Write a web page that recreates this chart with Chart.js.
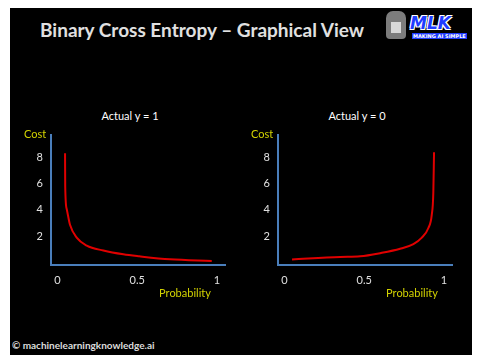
<!DOCTYPE html>
<html lang="en">
<head>
    <meta charset="UTF-8">
    <title>Binary Cross Entropy - Graphical View</title>
    <script src="https://cdn.jsdelivr.net/npm/chart.js"></script>
    <style>
        body {
            margin: 0;
            padding: 0;
            background-color: white;
            font-family: Lato, "Open Sans", sans-serif;
            width: 485px;
            height: 362px;
            overflow: hidden;
            position: relative;
        }
        .slide {
            position: absolute;
            left: 10px;
            top: 8px;
            width: 462px;
            height: 347px;
            background-color: black;
        }
        .title {
            position: absolute;
            left: 40px;
            top: 18px;
            color: #e0e0e0;
            font-size: 19px;
            font-weight: bold;
            white-space: nowrap;
        }
        .sub {
            position: absolute;
            top: 109px;
            color: white;
            font-size: 11px;
            white-space: nowrap;
            transform: translateX(-50%);
        }
        canvas {
            position: absolute;
        }
        .footer {
            position: absolute;
            left: 12px;
            top: 339px;
            color: #dcdcdc;
            font-size: 10px;
            font-weight: bold;
            white-space: nowrap;
        }
        .robot {
            position: absolute;
            left: 386px;
            top: 11px;
            width: 20px;
            height: 28px;
            background: #7c7c7c;
            border-radius: 7px 7px 4px 4px;
        }
        .robot::after {
            content: "";
            position: absolute;
            left: 5px;
            top: 11px;
            width: 10px;
            height: 11px;
            background: #d8d8d8;
        }
        .mlk {
            position: absolute;
            left: 410px;
            top: 13px;
            color: #1f3cff;
            font-family: "DejaVu Sans", sans-serif;
            font-size: 17px;
            font-weight: bold;
            font-style: italic;
            text-shadow: 1px 1px 0 white, -1px -1px 0 white, 1px -1px 0 white, -1px 1px 0 white;
        }
        .mlk-sub {
            position: absolute;
            left: 412px;
            top: 33px;
            color: white;
            font-family: "DejaVu Sans", sans-serif;
            font-size: 5px;
            font-weight: bold;
            background: #1f3cff;
            padding: 0 1px;
        }
    </style>
</head>
<body>
    <div class="slide"></div>
    <div class="title">Binary Cross Entropy – Graphical View</div>
    <div class="robot"></div>
    <div class="mlk">MLK</div>
    <div class="mlk-sub">MAKING AI SIMPLE</div>

    <div class="sub" style="left:130px">Actual y = 1</div>
    <div class="sub" style="left:357px">Actual y = 0</div>

    <canvas id="chartY1" width="215" height="190" style="left:20px; top:120px"></canvas>
    <canvas id="chartY0" width="215" height="190" style="left:247px; top:120px"></canvas>

    <div class="footer">© machinelearningknowledge.ai</div>

    <script>
        // values
        const probY1 = [0.048, 0.049, 0.058, 0.079, 0.121, 0.184, 0.288, 0.413, 0.513, 0.705, 0.967];
        const costY1 = [8.28, 5.79, 4.07, 2.86, 1.88, 1.27, 0.90, 0.61, 0.46, 0.23, 0.11];

        const probY0 = [0.048, 0.35, 0.475, 0.60, 0.725, 0.808, 0.861, 0.902, 0.923, 0.933, 0.9375];
        const costY0 = [0.22, 0.41, 0.46, 0.70, 1.03, 1.39, 1.88, 2.61, 3.59, 5.30, 8.36];

        const xTicks = [0, 0.5, 1];
        const xTickLabels = ['0', '0.5', '1'];
        const yTicks = [2, 4, 6, 8];

        const axisBlue = '#4a7ebb';
        const labelYellow = '#d2d200';

        // draws "Cost" above the y axis and "Probability" under the x axis
        const axisNames = {
            id: 'axisNames',
            afterDraw(chart) {
                const ctx = chart.ctx;
                const area = chart.chartArea;
                ctx.save();
                ctx.fillStyle = labelYellow;
                ctx.font = '11px Lato, "Open Sans", sans-serif';
                ctx.textAlign = 'center';
                ctx.textBaseline = 'middle';
                ctx.fillText('Cost', area.left - 16, area.top);
                ctx.fillText('Probability', area.right - 40, area.bottom + 28);
                ctx.restore();
            }
        };

        function makeChart(id, xs, ys) {
            const ctx = document.getElementById(id).getContext('2d');
            return new Chart(ctx, {
                type: 'line',
                data: {
                    datasets: [{
                        data: xs.map((x, i) => ({ x: x, y: ys[i] })),
                        borderColor: '#e00000',
                        borderWidth: 2,
                        pointRadius: 0,
                        cubicInterpolationMode: 'monotone',
                        fill: false
                    }]
                },
                options: {
                    responsive: false,
                    animation: false,
                    layout: {
                        padding: { top: 10, right: 10, left: 0, bottom: 0 }
                    },
                    plugins: {
                        legend: { display: false },
                        tooltip: { enabled: false }
                    },
                    scales: {
                        x: {
                            type: 'linear',
                            min: -0.04,
                            max: 1.05,
                            afterBuildTicks: scale => {
                                scale.ticks = xTicks.map(v => ({ value: v }));
                            },
                            afterFit: scale => { scale.height = 45; },
                            grid: { display: true, drawOnChartArea: false, drawTicks: false, color: 'transparent' },
                            border: { display: true, color: axisBlue, width: 2 },
                            ticks: {
                                color: '#e0e0e0',
                                padding: 9,
                                maxRotation: 0,
                                callback: (value, i) => xTickLabels[i],
                                font: { family: 'Lato, "Open Sans", sans-serif', size: 11 }
                            }
                        },
                        y: {
                            min: -0.2,
                            max: 9.7,
                            afterBuildTicks: scale => {
                                scale.ticks = yTicks.map(v => ({ value: v }));
                            },
                            afterFit: scale => { scale.width = 31; },
                            grid: { display: true, drawOnChartArea: false, drawTicks: false, color: 'transparent' },
                            border: { display: true, color: axisBlue, width: 2 },
                            ticks: {
                                color: '#e0e0e0',
                                padding: 8,
                                font: { family: 'Lato, "Open Sans", sans-serif', size: 11 }
                            }
                        }
                    }
                },
                plugins: [axisNames]
            });
        }

        makeChart('chartY1', probY1, costY1);
        makeChart('chartY0', probY0, costY0);
    </script>
</body>
</html>
